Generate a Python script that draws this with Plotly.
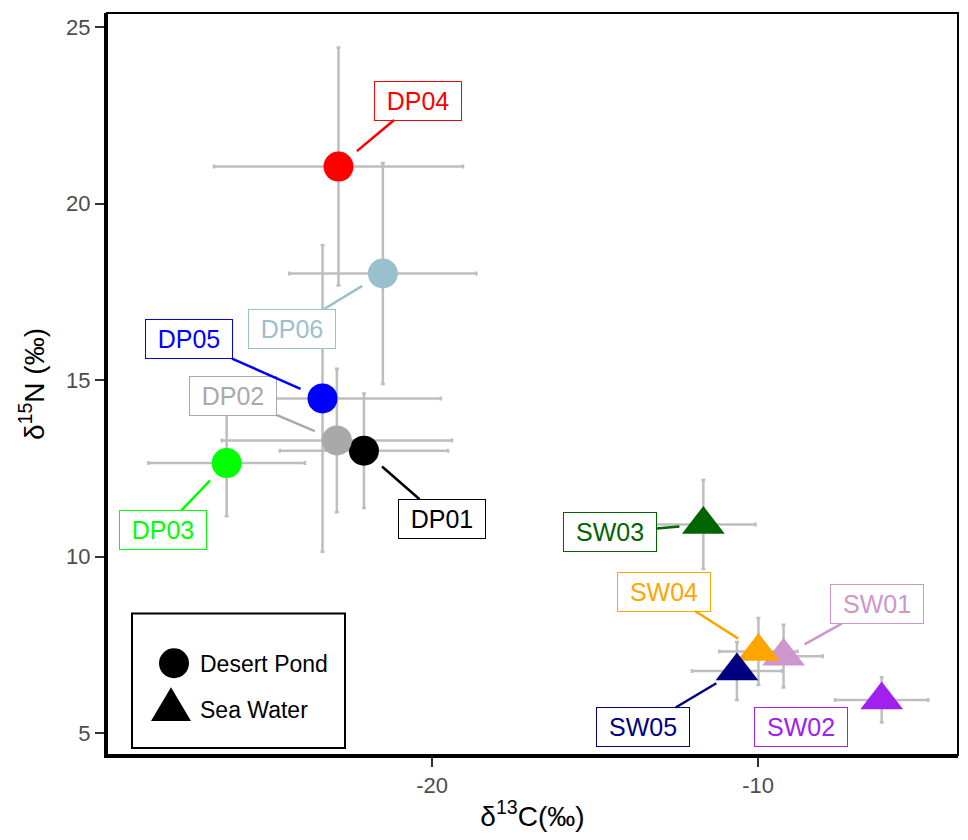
import plotly.graph_objects as go

# ---------------- data ----------------
sites = ["DP01", "DP02", "DP03", "DP04", "DP05", "DP06",
         "SW01", "SW02", "SW03", "SW04", "SW05"]
habitat = ["Desert Pond"] * 6 + ["Sea Water"] * 5
d13C = [-22.09, -22.92, -26.30, -22.87, -23.36, -21.51,
        -9.22, -6.21, -11.68, -9.99, -10.65]
d15N = [13.00, 13.29, 12.65, 21.05, 14.48, 18.02,
        7.18, 5.94, 10.91, 7.31, 6.76]
sd13C = [2.58, 3.53, 2.40, 3.82, 3.63, 2.87,
         1.20, 1.43, 1.60, 1.20, 1.38]
sd15N = [1.62, 2.03, 1.51, 3.37, 4.34, 3.13,
         0.89, 0.64, 1.26, 0.95, 0.82]
colors = ["#000000", "#A9A9A9", "#00FF00", "#FF0000", "#0000FF", "#9AC0CD",
          "#CD96CD", "#A020F0", "#006400", "#FFA500", "#000080"]
# label offsets (pixels) from the point to the label centre
label_dx = [78, -104, -64, 79, -134, -91, 93, -81, -93, -94, -94]
label_dy = [68, -44, 67, -66, -59, 55, -52, 27, 8, -60, 56]

x_ticks = [-20, -10]
y_ticks = [5, 10, 15, 20, 25]

FONT = "Liberation Sans, Arial, Helvetica, sans-serif"

# figure geometry (the page body adds an 8px offset on every side)
OFF = 8
W, H = 952, 824
ML, MR, MT, MB = 99, 2, 5, 75
PW, PH = W - ML - MR, H - MT - MB


def pxx(px):  # screenshot px -> paper fraction
    return (px - OFF - ML) / PW


def pxy(py):
    return (H - MB - (py - OFF)) / PH


fig = go.Figure()

# error bars first (beneath all points)
for i, s in enumerate(sites):
    fig.add_trace(go.Scatter(
        x=[d13C[i]], y=[d15N[i]], mode="markers",
        marker=dict(size=1, color="rgba(0,0,0,0)"),
        error_x=dict(type="data", array=[sd13C[i]], color="#BEBEBE",
                     thickness=2.5, width=2),
        error_y=dict(type="data", array=[sd15N[i]], color="#BEBEBE",
                     thickness=2.5, width=2),
        showlegend=False, hoverinfo="skip"))

# points
for i, s in enumerate(sites):
    is_pond = habitat[i] == "Desert Pond"
    fig.add_trace(go.Scatter(
        x=[d13C[i]], y=[d15N[i]], mode="markers", name=s,
        marker=dict(symbol="circle" if is_pond else "triangle-up",
                    size=30 if is_pond else 37, color=colors[i],
                    line=dict(width=0)),
        showlegend=False))

# repelled-style labels
for i, s in enumerate(sites):
    w = 78 if s.startswith("DP") else 84
    common = dict(x=d13C[i], y=d15N[i], xref="x", yref="y", text=s,
                  font=dict(family=FONT, size=25, color=colors[i]),
                  bgcolor="white", bordercolor=colors[i], borderwidth=1,
                  borderpad=4, width=w, height=30, align="center")
    if s == "SW02":
        fig.add_annotation(showarrow=False, xshift=label_dx[i],
                           yshift=-label_dy[i], **common)
    else:
        fig.add_annotation(showarrow=True, ax=label_dx[i], ay=label_dy[i],
                           arrowhead=0, arrowwidth=2.5, arrowcolor=colors[i],
                           standoff=24, **common)

# panel border
fig.add_shape(type="rect", xref="paper", yref="paper", x0=0, x1=1, y0=0, y1=1,
              line=dict(color="black", width=2), layer="above")

# custom legend key
fig.add_shape(type="rect", xref="paper", yref="paper",
              x0=pxx(132), x1=pxx(345), y0=pxy(750), y1=pxy(615),
              line=dict(color="black", width=2), fillcolor="white", layer="above")
fig.add_shape(type="circle", xref="paper", yref="paper",
              x0=pxx(159), x1=pxx(189), y0=pxy(680), y1=pxy(650),
              line=dict(width=0), fillcolor="black", layer="above")
fig.add_shape(type="path", xref="paper", yref="paper",
              path=f"M {pxx(151)} {pxy(723)} L {pxx(191)} {pxy(723)} L {pxx(171)} {pxy(689)} Z",
              line=dict(width=0), fillcolor="black", layer="above")
for txt, py in [("Desert Pond", 666), ("Sea Water", 712)]:
    fig.add_annotation(xref="paper", yref="paper", x=pxx(198), y=pxy(py),
                       xanchor="left", yanchor="middle", showarrow=False,
                       text=txt, font=dict(family=FONT, size=23, color="black"))

fig.update_layout(
    width=W, height=H, plot_bgcolor="white", paper_bgcolor="white",
    margin=dict(l=ML, r=MR, t=MT, b=MB),
    font=dict(family=FONT),
    showlegend=False,
    xaxis=dict(range=[-29.97, -3.87], tickvals=x_ticks,
               ticktext=[str(v) for v in x_ticks],
               showgrid=False, zeroline=False, showline=True, linewidth=3,
               linecolor="black", ticks="outside", ticklen=9, tickwidth=2,
               tickcolor="#333333",
               tickfont=dict(family=FONT, size=22, color="#4D4D4D"),
               title=dict(text="δ<sup>13</sup>C(‰)", standoff=12,
                          font=dict(family=FONT, size=28, color="black"))),
    yaxis=dict(range=[4.38, 25.40], tickvals=y_ticks,
               ticktext=[str(v) for v in y_ticks],
               showgrid=False, zeroline=False, showline=True, linewidth=3,
               linecolor="black", ticks="outside", ticklen=9, tickwidth=2,
               tickcolor="#333333",
               tickfont=dict(family=FONT, size=22, color="#4D4D4D"),
               title=dict(text="δ<sup>15</sup>N (‰)", standoff=14,
                          font=dict(family=FONT, size=28, color="black"))),
)

fig.write_html("out.html")
